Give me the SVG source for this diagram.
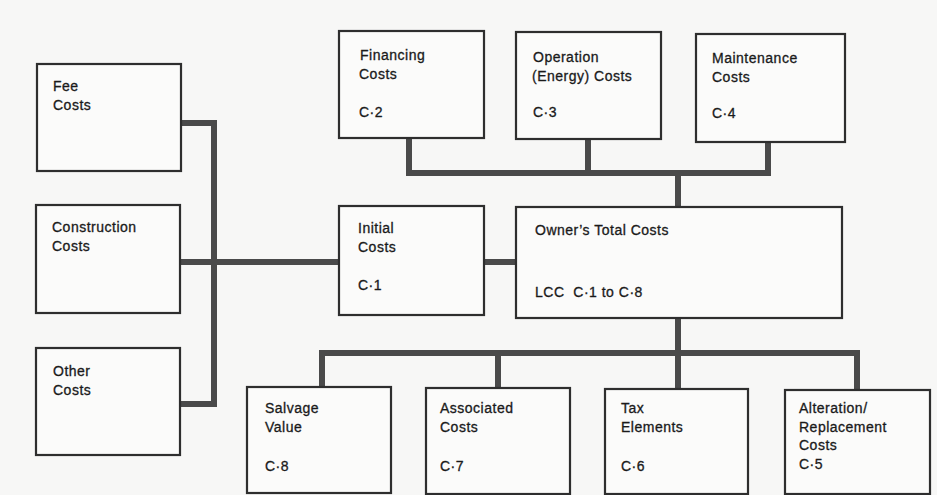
<svg xmlns="http://www.w3.org/2000/svg" width="937" height="495" viewBox="0 0 937 495">
<style>
.box{fill:#fbfbfa;stroke:#2e2e2e;stroke-width:2.2}
.t{font-family:"Liberation Sans",Arial,sans-serif;font-size:14px;fill:#1a1a1a;stroke:#1a1a1a;stroke-width:0.3;letter-spacing:0.5px}
.c{fill:none;stroke:#4a4a4a;stroke-width:6;stroke-linejoin:miter;stroke-linecap:square}
</style>
<rect width="937" height="495" fill="#f7f7f6"/>
<g id="connectors">
<path class="c" d="M181,123 H214 V404 H181"/>
<path class="c" d="M181,262 H338"/>
<path class="c" d="M485,262 H515"/>
<path class="c" d="M409,139 V173 H768 V142"/>
<path class="c" d="M588,139 V173"/>
<path class="c" d="M678,173 V206"/>
<path class="c" d="M678,319 V386"/>
<path class="c" d="M322,386 V353 H857 V389"/>
<path class="c" d="M498,353 V387"/>
</g>
<g id="fee"><rect class="box" x="37" y="64" width="144" height="107"/><text class="t" x="53" y="91">Fee</text><text class="t" x="53" y="110">Costs</text></g>
<g id="construction"><rect class="box" x="36" y="205" width="144" height="108"/><text class="t" x="52" y="232">Construction</text><text class="t" x="52" y="251">Costs</text></g>
<g id="other"><rect class="box" x="36" y="348" width="144" height="107"/><text class="t" x="53" y="376">Other</text><text class="t" x="53" y="395">Costs</text></g>
<g id="initial"><rect class="box" x="339" y="206" width="145" height="109"/><text class="t" x="358" y="233">Initial</text><text class="t" x="358" y="252">Costs</text><text class="t" x="358" y="290">C·1</text></g>
<g id="financing"><rect class="box" x="339" y="31" width="145" height="107"/><text class="t" x="360" y="60">Financing</text><text class="t" x="359" y="79">Costs</text><text class="t" x="359" y="117">C·2</text></g>
<g id="operation"><rect class="box" x="516" y="32" width="145" height="107"/><text class="t" x="533" y="62">Operation</text><text class="t" x="532" y="81">(Energy) Costs</text><text class="t" x="533" y="117">C·3</text></g>
<g id="maintenance"><rect class="box" x="696" y="34" width="149" height="108"/><text class="t" x="712" y="63">Maintenance</text><text class="t" x="712" y="82">Costs</text><text class="t" x="712" y="118">C·4</text></g>
<g id="owner"><rect class="box" x="516" y="207" width="326" height="111"/><text class="t" x="535" y="235">Owner’s Total Costs</text><text class="t" x="535" y="297">LCC&#160; C·1 to C·8</text></g>
<g id="salvage"><rect class="box" x="247" y="387" width="144" height="106"/><text class="t" x="265" y="413">Salvage</text><text class="t" x="265" y="432">Value</text><text class="t" x="265" y="471">C·8</text></g>
<g id="associated"><rect class="box" x="426" y="388" width="144" height="106"/><text class="t" x="440" y="413">Associated</text><text class="t" x="440" y="432">Costs</text><text class="t" x="440" y="471">C·7</text></g>
<g id="tax"><rect class="box" x="605" y="389" width="143" height="105"/><text class="t" x="621" y="413">Tax</text><text class="t" x="621" y="432">Elements</text><text class="t" x="621" y="471">C·6</text></g>
<g id="alteration"><rect class="box" x="785" y="390" width="145" height="104"/><text class="t" x="799" y="413">Alteration/</text><text class="t" x="799" y="432">Replacement</text><text class="t" x="799" y="450">Costs</text><text class="t" x="799" y="469">C·5</text></g>
</svg>
